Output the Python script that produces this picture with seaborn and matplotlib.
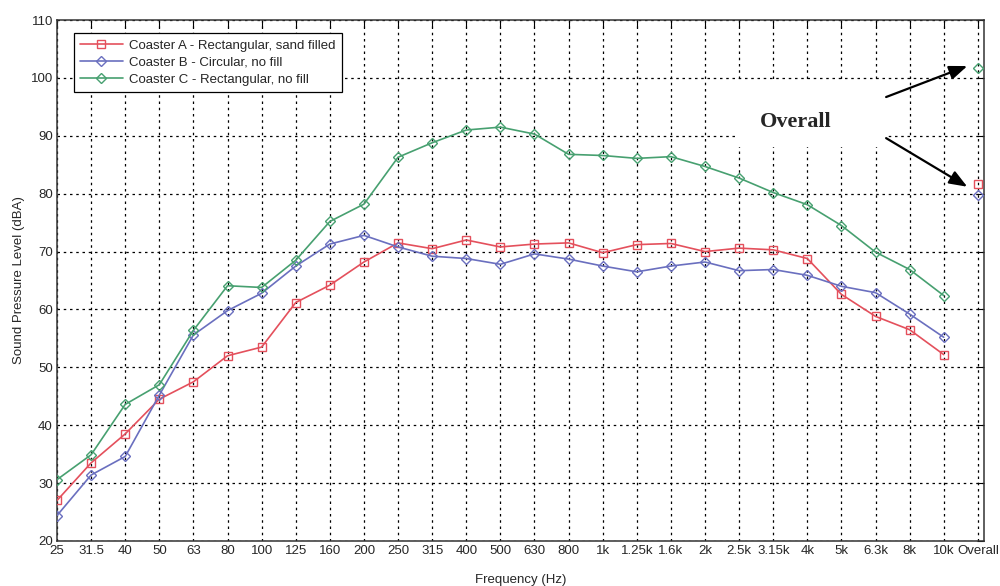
import numpy as np
import pandas as pd
import matplotlib
matplotlib.use("Agg")
import matplotlib.pyplot as plt
import seaborn as sns
from matplotlib.patches import Rectangle

freq_labels = ["25", "31.5", "40", "50", "63", "80", "100", "125", "160", "200",
               "250", "315", "400", "500", "630", "800", "1k", "1.25k", "1.6k",
               "2k", "2.5k", "3.15k", "4k", "5k", "6.3k", "8k", "10k"]
overall_label = "Overall"

coaster_a = [27.0, 33.5, 38.5, 44.5, 47.5, 52.0, 53.5, 61.2, 64.2, 68.2,
             71.5, 70.5, 72.0, 70.8, 71.3, 71.5, 69.8, 71.2, 71.4,
             70.0, 70.6, 70.3, 68.8, 62.6, 58.8, 56.5, 52.2]
coaster_b = [24.4, 31.4, 34.6, 45.2, 55.6, 59.8, 62.8, 67.5, 71.3, 72.8,
             70.8, 69.2, 68.8, 67.8, 69.6, 68.7, 67.5, 66.5, 67.5,
             68.2, 66.7, 66.9, 65.9, 64.0, 62.9, 59.2, 55.2]
coaster_c = [30.6, 34.9, 43.6, 47.0, 56.4, 64.1, 63.8, 68.5, 75.2, 78.2,
             86.3, 88.8, 91.0, 91.5, 90.3, 86.8, 86.6, 86.1, 86.4,
             84.7, 82.7, 80.2, 78.1, 74.5, 69.9, 66.9, 62.4]
overall_values = [81.7, 79.8, 101.7]

series_names = ["Coaster A - Rectangular, sand filled",
                "Coaster B - Circular, no fill",
                "Coaster C - Rectangular, no fill"]
series_values = [coaster_a, coaster_b, coaster_c]
colors = ["#e4505c", "#6a6fbf", "#47a070"]
markers = ["s", "D", "D"]

sns.set_theme(style="white")
plt.rcParams["font.family"] = ["Liberation Sans", "DejaVu Sans"]

fig = plt.figure(figsize=(10, 5.86), dpi=100)
ax = fig.add_axes([0.057, 0.0768, 0.927, 0.889])

x = np.arange(len(freq_labels))
for name, vals, c, m in zip(series_names, series_values, colors, markers):
    df = pd.DataFrame({"x": x, "y": vals})
    sns.lineplot(data=df, x="x", y="y", ax=ax, color=c, lw=1.2,
                 marker=m, markersize=5.5 if m == "s" else 5,
                 markerfacecolor="none", markeredgecolor=c, markeredgewidth=1.0,
                 label=name, zorder=3)

ov_x = len(freq_labels)
for v, c, m in zip(overall_values, colors, markers):
    ax.plot([ov_x], [v], linestyle="none", marker=m,
            markersize=5.5 if m == "s" else 5, markerfacecolor="none",
            markeredgecolor=c, markeredgewidth=1.0, zorder=3)

ax.set_xlim(0, ov_x + 0.18)
ax.set_ylim(20, 110)
ax.set_xticks(list(x) + [ov_x])
ax.set_xticklabels(freq_labels + [overall_label], fontsize=9.5)
ax.set_yticks(np.arange(20, 111, 10))
ax.tick_params(axis="y", labelsize=9.5)
ax.tick_params(direction="in", top=True, right=True, length=5, width=0.8,
               color="black", pad=3)
ax.set_axisbelow(True)
ax.grid(True, color="black", linestyle=(0, (2, 3)), lw=0.9)
for sp in ax.spines.values():
    sp.set_color("#333333")
    sp.set_linewidth(1.1)

ax.set_xlabel("Frequency (Hz)", fontsize=9.5, labelpad=12)
ax.set_ylabel("Sound Pressure Level (dBA)", fontsize=9.5, labelpad=4)

# white background area behind the annotation
ax.add_patch(Rectangle((19.95, 88.0), 4.35, 11.5, facecolor="white",
                       edgecolor="none", zorder=1))
ax.text(21.67, 92.4, "Overall", fontsize=16, fontweight="bold",
        family=["Liberation Serif", "DejaVu Serif"], ha="center", va="center",
        zorder=4)
arrow_kw = dict(arrowstyle="-|>,head_length=0.9,head_width=0.35",
                color="black", lw=1.6, shrinkA=0, shrinkB=0)
ax.annotate("", xy=(26.69, 102.05), xytext=(24.31, 96.7), arrowprops=arrow_kw,
            zorder=4)
ax.annotate("", xy=(26.69, 81.2), xytext=(24.31, 89.6), arrowprops=arrow_kw,
            zorder=4)

leg = ax.legend(loc="upper left", bbox_to_anchor=(0.018, 0.975), fontsize=9.5,
                frameon=True, fancybox=False, framealpha=1, edgecolor="black",
                handlelength=3.2, borderpad=0.5, labelspacing=0.35,
                handletextpad=0.5, borderaxespad=0)
leg.get_frame().set_linewidth(0.9)

fig.savefig("out.png", dpi=100)
